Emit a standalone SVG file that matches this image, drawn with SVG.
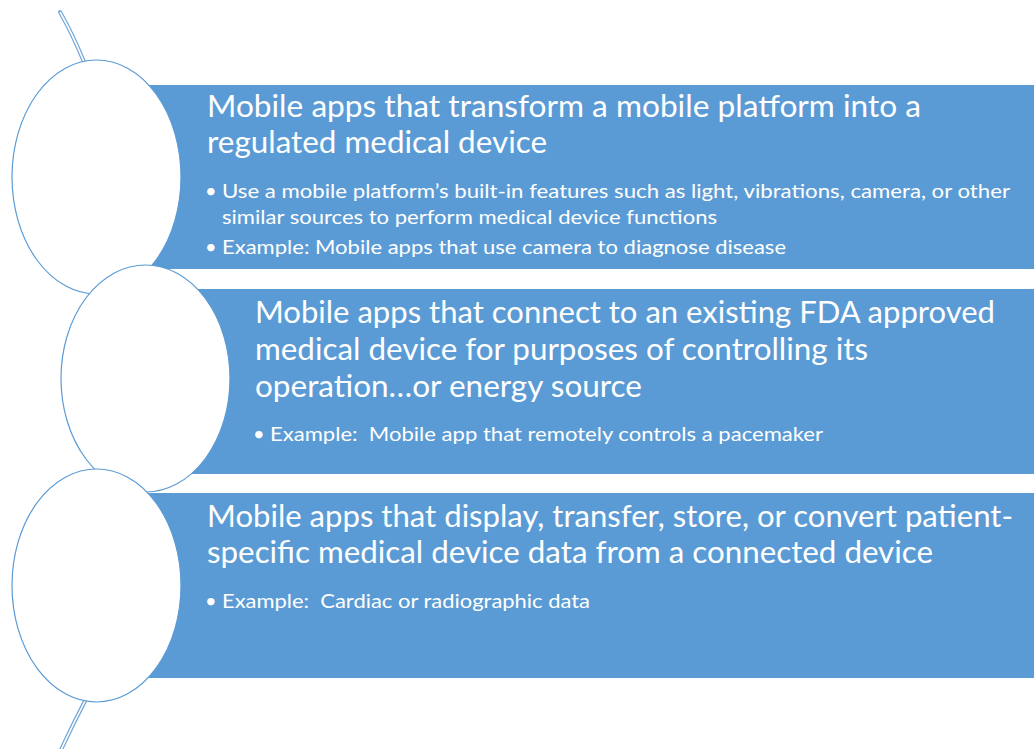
<svg xmlns="http://www.w3.org/2000/svg" width="1034" height="749" viewBox="0 0 1034 749">
<style>
.bar{fill:#5b9bd5}
.circ{fill:#ffffff;stroke:#5b9bd5;stroke-width:1.2}
.t{font-family:Lato,"Open Sans","Liberation Sans",sans-serif;fill:#ffffff}
.h{font-size:30px}
.s{font-size:20px}
.arcO{fill:none;stroke:#6fa6da;stroke-width:4;stroke-linecap:round}
.arcI{fill:none;stroke:#ffffff;stroke-width:1.6}
</style>
<rect width="1034" height="749" fill="#ffffff"/>
<g id="connectors">
<path class="arcO" d="M60,12 Q73,35 84,62"/>
<path class="arcI" d="M60,12 Q73,35 84,62"/>
<path class="arcO" d="M85,701 Q72,726 60,752"/>
<path class="arcI" d="M85,701 Q72,726 60,752"/>
</g>
<g id="bar1">
<rect class="bar" x="96" y="85" width="938" height="184"/>
<text class="t h" x="207" y="117" textLength="714" lengthAdjust="spacingAndGlyphs">Mobile apps that transform a mobile platform into a</text>
<text class="t h" x="207" y="153" textLength="340" lengthAdjust="spacingAndGlyphs">regulated medical device</text>
<text class="t s" x="205" y="198">•</text>
<text class="t s" x="222" y="198" textLength="788" lengthAdjust="spacingAndGlyphs">Use a mobile platform’s built-in features such as light, vibrations, camera, or other</text>
<text class="t s" x="222" y="224" textLength="495" lengthAdjust="spacingAndGlyphs">similar sources to perform medical device functions</text>
<text class="t s" x="205" y="254">•</text>
<text class="t s" x="222" y="254" textLength="564" lengthAdjust="spacingAndGlyphs">Example: Mobile apps that use camera to diagnose disease</text>
</g>
<g id="bar2">
<rect class="bar" x="145" y="289" width="889" height="185"/>
<text class="t h" x="255" y="323" textLength="740" lengthAdjust="spacingAndGlyphs">Mobile apps that connect to an existing FDA approved</text>
<text class="t h" x="255" y="360" textLength="613" lengthAdjust="spacingAndGlyphs">medical device for purposes of controlling its</text>
<text class="t h" x="255" y="397" textLength="387" lengthAdjust="spacingAndGlyphs">operation…or energy source</text>
<text class="t s" x="253" y="441">•</text>
<text class="t s" x="270" y="441" textLength="553" lengthAdjust="spacingAndGlyphs">Example:&#160; Mobile app that remotely controls a pacemaker</text>
</g>
<g id="bar3">
<rect class="bar" x="96" y="493" width="938" height="185"/>
<text class="t h" x="207" y="527" textLength="806" lengthAdjust="spacingAndGlyphs">Mobile apps that display, transfer, store, or convert patient-</text>
<text class="t h" x="207" y="563" textLength="726" lengthAdjust="spacingAndGlyphs">specific medical device data from a connected device</text>
<text class="t s" x="205" y="608">•</text>
<text class="t s" x="222" y="608" textLength="368" lengthAdjust="spacingAndGlyphs">Example:&#160; Cardiac or radiographic data</text>
</g>
<g id="circle1"><ellipse class="circ" cx="96.5" cy="177" rx="84.5" ry="117"/></g>
<g id="circle2"><ellipse class="circ" cx="145.5" cy="378.5" rx="84.5" ry="113.5"/></g>
<g id="circle3"><ellipse class="circ" cx="96.5" cy="585.5" rx="84.5" ry="116.5"/></g>
</svg>
